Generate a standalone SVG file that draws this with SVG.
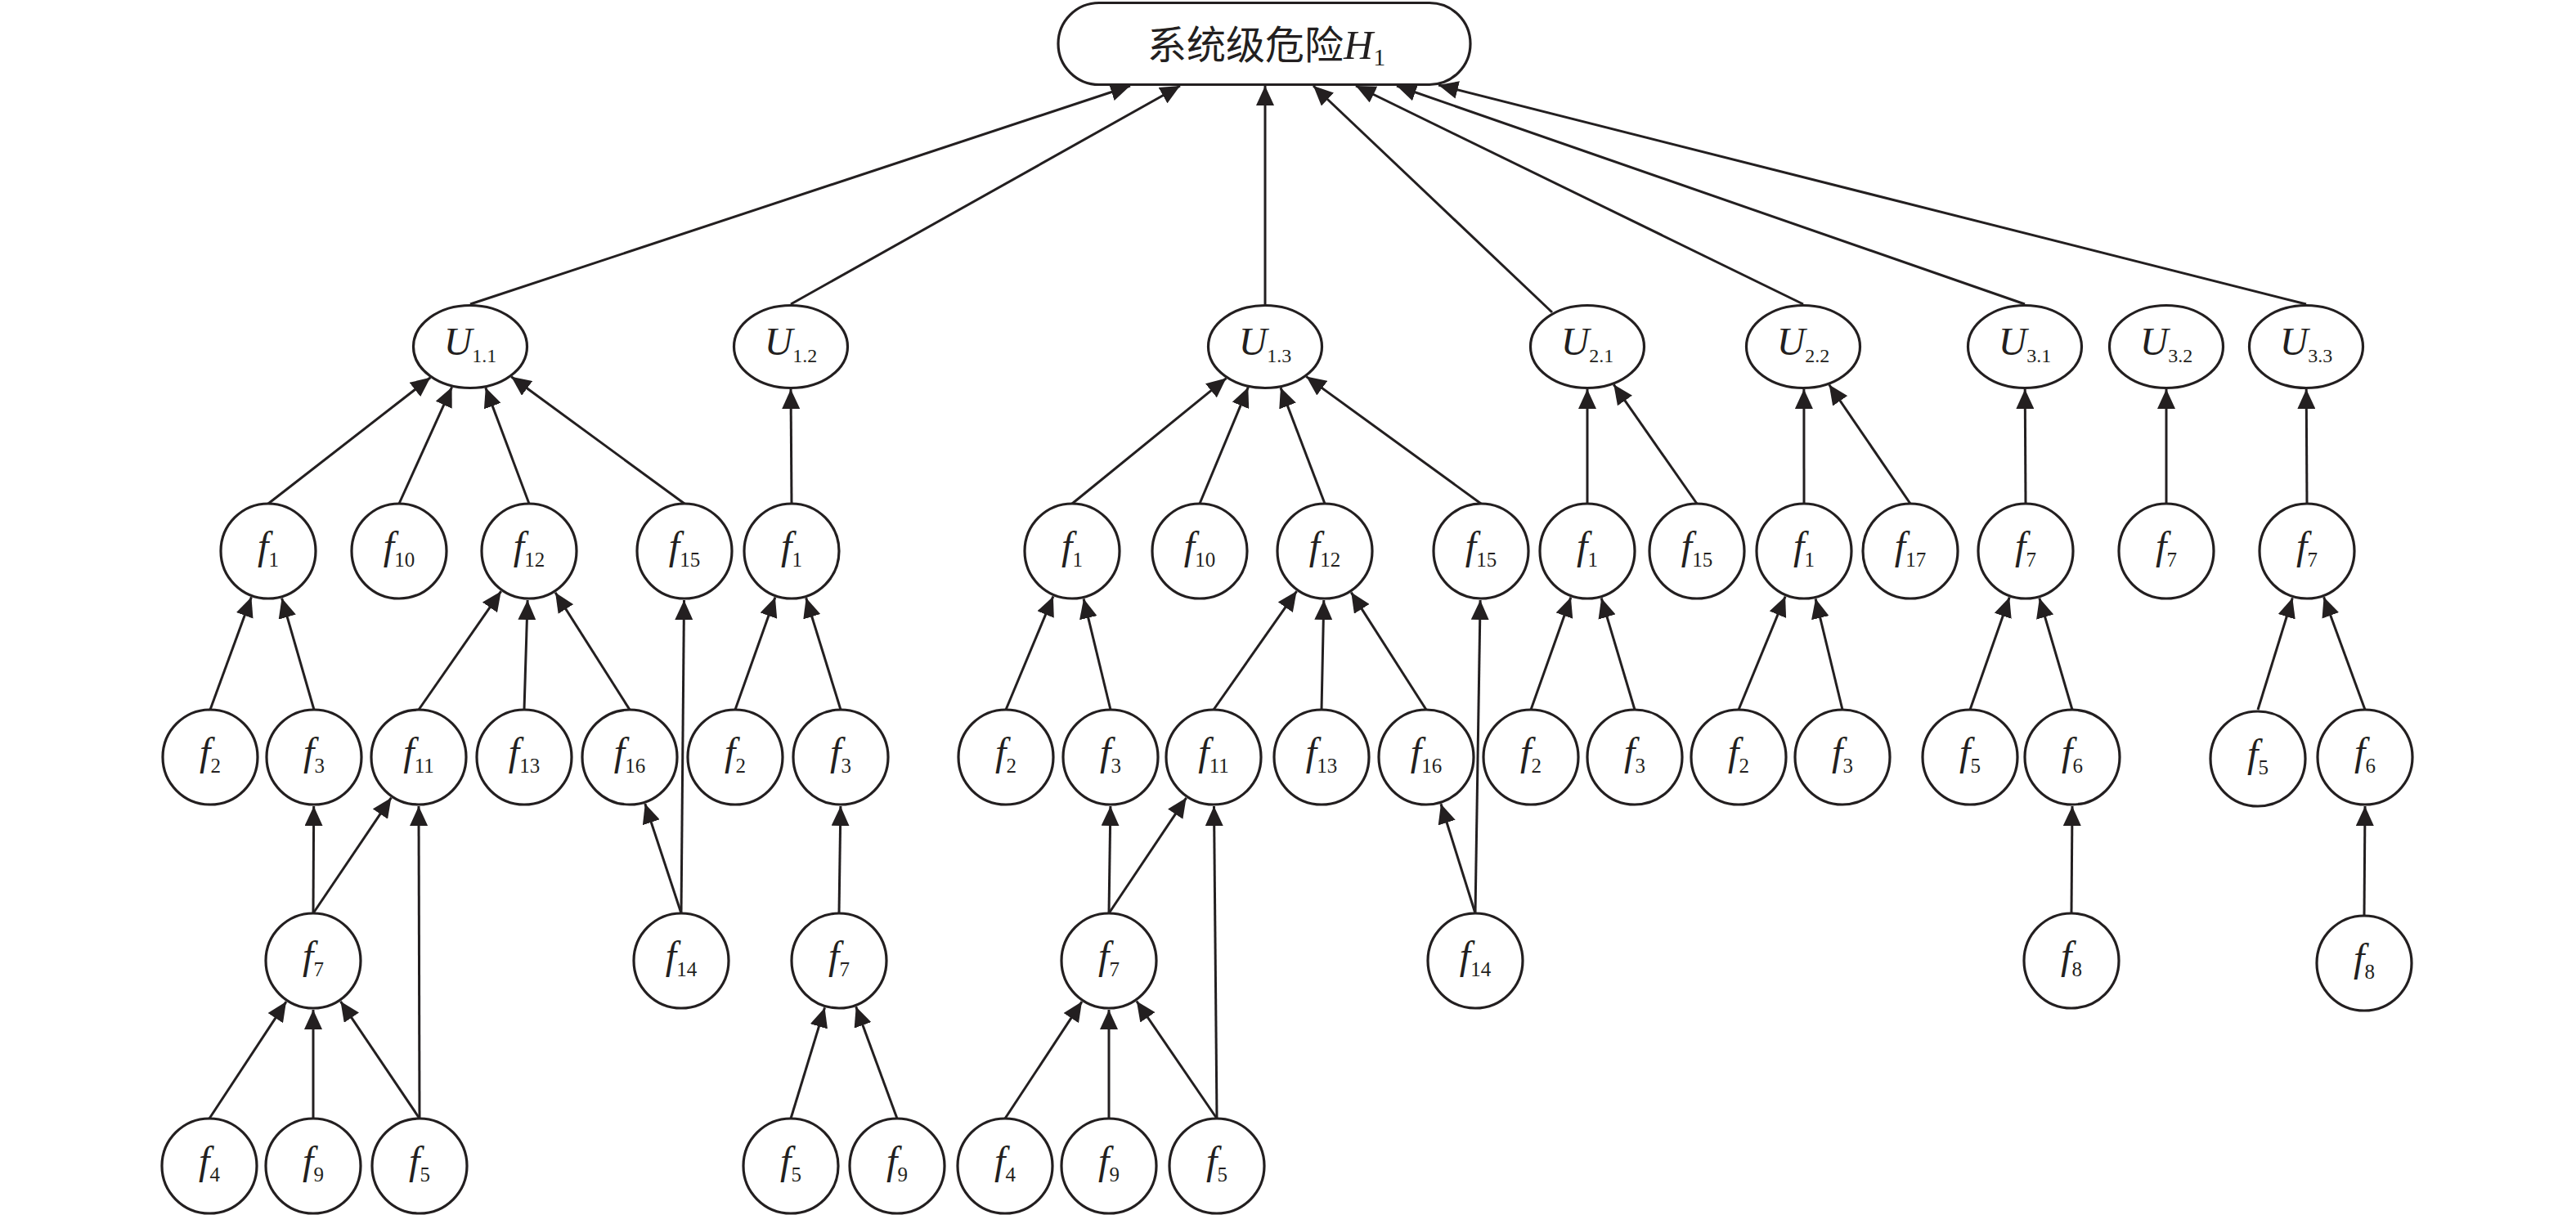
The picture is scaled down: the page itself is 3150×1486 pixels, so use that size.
<svg xmlns="http://www.w3.org/2000/svg" width="3150" height="1486" viewBox="0 0 3150 1486">
<style>
.n{fill:#fff;stroke:#231f20;stroke-width:3.2}
.e{stroke:#231f20;stroke-width:3;fill:none;marker-end:url(#ah)}
.t{font-family:"Liberation Serif","Times New Roman",serif;font-size:48px;font-style:italic;text-anchor:middle;fill:#231f20}
.s{font-size:25px;font-style:normal}
.su{font-size:24px;font-style:normal}
</style>
<defs>
<marker id="ah" viewBox="0 0 24 22" refX="24" refY="11" markerWidth="24" markerHeight="22" markerUnits="userSpaceOnUse" orient="auto">
<path d="M0,0 L24,11 L0,22 z" fill="#231f20"/>
</marker>
</defs>
<rect width="3150" height="1486" fill="#fff"/>
<g id="connectors">
<line class="e" x1="575" y1="372" x2="1382" y2="105"/>
<line class="e" x1="967" y1="372" x2="1443" y2="105"/>
<line class="e" x1="1547" y1="372" x2="1547" y2="105"/>
<line class="e" x1="1898" y1="382" x2="1606" y2="105"/>
<line class="e" x1="2205" y1="372" x2="1658" y2="105"/>
<line class="e" x1="2476" y1="372" x2="1708" y2="105"/>
<line class="e" x1="2820" y1="372" x2="1759" y2="104"/>
<line class="e" x1="257" y1="868" x2="307.4" y2="730.3"/>
<line class="e" x1="384" y1="868" x2="344.6" y2="731.6"/>
<line class="e" x1="512" y1="868" x2="612.7" y2="723.2"/>
<line class="e" x1="641" y1="868" x2="645.1" y2="734"/>
<line class="e" x1="770" y1="868" x2="679.1" y2="724.7"/>
<line class="e" x1="383" y1="1117" x2="383.7" y2="986"/>
<line class="e" x1="383" y1="1117" x2="478.4" y2="975.7"/>
<line class="e" x1="513" y1="1368" x2="512" y2="986"/>
<line class="e" x1="256" y1="1368" x2="350" y2="1225.1"/>
<line class="e" x1="383" y1="1368" x2="383" y2="1235"/>
<line class="e" x1="513" y1="1368" x2="416.5" y2="1224.8"/>
<line class="e" x1="833" y1="1117" x2="788.8" y2="983"/>
<line class="e" x1="833" y1="1117" x2="836.5" y2="734"/>
<line class="e" x1="328" y1="616" x2="526.3" y2="461.8"/>
<line class="e" x1="488" y1="616" x2="552.6" y2="473.4"/>
<line class="e" x1="647" y1="616" x2="593.8" y2="474.1"/>
<line class="e" x1="837" y1="616" x2="625.2" y2="460.8"/>
<line class="e" x1="968" y1="616" x2="967" y2="476"/>
<line class="e" x1="899" y1="868" x2="947.9" y2="730.5"/>
<line class="e" x1="1028" y1="868" x2="985.7" y2="731.3"/>
<line class="e" x1="1026" y1="1117" x2="1027.9" y2="986"/>
<line class="e" x1="967" y1="1368" x2="1008.5" y2="1232.4"/>
<line class="e" x1="1097" y1="1368" x2="1046.7" y2="1231.3"/>
<line class="e" x1="1311" y1="616" x2="1499.5" y2="462.6"/>
<line class="e" x1="1467" y1="616" x2="1526.3" y2="473.7"/>
<line class="e" x1="1620" y1="616" x2="1566" y2="474.1"/>
<line class="e" x1="1811" y1="616" x2="1597.4" y2="460.6"/>
<line class="e" x1="1230" y1="868" x2="1287.9" y2="729.4"/>
<line class="e" x1="1358" y1="868" x2="1325.1" y2="732.3"/>
<line class="e" x1="1484" y1="868" x2="1585.6" y2="723.1"/>
<line class="e" x1="1616" y1="868" x2="1618.8" y2="734"/>
<line class="e" x1="1744" y1="868" x2="1652.3" y2="724.6"/>
<line class="e" x1="1356" y1="1117" x2="1357.9" y2="986"/>
<line class="e" x1="1356" y1="1117" x2="1450.6" y2="975.8"/>
<line class="e" x1="1488" y1="1368" x2="1484.5" y2="986"/>
<line class="e" x1="1804" y1="1117" x2="1762" y2="983.2"/>
<line class="e" x1="1804" y1="1117" x2="1810.1" y2="734"/>
<line class="e" x1="1229" y1="1368" x2="1323" y2="1225.1"/>
<line class="e" x1="1356" y1="1368" x2="1356" y2="1235"/>
<line class="e" x1="1488" y1="1368" x2="1389.9" y2="1224.5"/>
<line class="e" x1="1941" y1="616" x2="1941" y2="476"/>
<line class="e" x1="2075" y1="616" x2="1973.3" y2="470.3"/>
<line class="e" x1="1872" y1="868" x2="1920.9" y2="730.5"/>
<line class="e" x1="1999" y1="868" x2="1958.2" y2="731.5"/>
<line class="e" x1="2206" y1="616" x2="2205.9" y2="476"/>
<line class="e" x1="2336" y1="616" x2="2236.7" y2="470.5"/>
<line class="e" x1="2126" y1="868" x2="2183.1" y2="729.5"/>
<line class="e" x1="2253" y1="868" x2="2220.1" y2="732.3"/>
<line class="e" x1="2477" y1="616" x2="2476.2" y2="476"/>
<line class="e" x1="2409" y1="868" x2="2457.2" y2="730.6"/>
<line class="e" x1="2534" y1="868" x2="2493.9" y2="731.6"/>
<line class="e" x1="2533" y1="1117" x2="2534" y2="986"/>
<line class="e" x1="2649" y1="616" x2="2649" y2="476"/>
<line class="e" x1="2821" y1="616" x2="2820.2" y2="476"/>
<line class="e" x1="2761" y1="868" x2="2803.3" y2="731.3"/>
<line class="e" x1="2892" y1="868" x2="2841.6" y2="730.3"/>
<line class="e" x1="2891" y1="1120" x2="2892" y2="986"/>
</g>
<g id="H1">
<rect class="n" x="1294" y="3.5" width="504" height="100" rx="50" ry="50"/>
<text x="1403" y="72" style="font-family:'Liberation Serif','Noto Sans CJK SC',serif;fill:#231f20;font-size:48px"><tspan style="font-family:'Noto Sans CJK SC',sans-serif">系统级危险</tspan><tspan style="font-style:italic;font-size:50px">H</tspan><tspan style="font-size:30px" dy="8">1</tspan></text>
</g>
<g id="U1_1"><ellipse class="n" cx="575" cy="424" rx="69.5" ry="50.5"/><text class="t" x="575" y="434">U<tspan class="su" dy="9">1.1</tspan></text></g>
<g id="U1_2"><ellipse class="n" cx="967" cy="424" rx="69.5" ry="50.5"/><text class="t" x="967" y="434">U<tspan class="su" dy="9">1.2</tspan></text></g>
<g id="U1_3"><ellipse class="n" cx="1547" cy="424" rx="69.5" ry="50.5"/><text class="t" x="1547" y="434">U<tspan class="su" dy="9">1.3</tspan></text></g>
<g id="U2_1"><ellipse class="n" cx="1941" cy="424" rx="69.5" ry="50.5"/><text class="t" x="1941" y="434">U<tspan class="su" dy="9">2.1</tspan></text></g>
<g id="U2_2"><ellipse class="n" cx="2205" cy="424" rx="69.5" ry="50.5"/><text class="t" x="2205" y="434">U<tspan class="su" dy="9">2.2</tspan></text></g>
<g id="U3_1"><ellipse class="n" cx="2476" cy="424" rx="69.5" ry="50.5"/><text class="t" x="2476" y="434">U<tspan class="su" dy="9">3.1</tspan></text></g>
<g id="U3_2"><ellipse class="n" cx="2649" cy="424" rx="69.5" ry="50.5"/><text class="t" x="2649" y="434">U<tspan class="su" dy="9">3.2</tspan></text></g>
<g id="U3_3"><ellipse class="n" cx="2820" cy="424" rx="69.5" ry="50.5"/><text class="t" x="2820" y="434">U<tspan class="su" dy="9">3.3</tspan></text></g>
<g id="g1_f1"><circle class="n" cx="328" cy="674" r="58"/><text class="t" x="328" y="684">f<tspan class="s" dy="9">1</tspan></text></g>
<g id="g1_f10"><circle class="n" cx="488" cy="674" r="58"/><text class="t" x="488" y="684">f<tspan class="s" dy="9">10</tspan></text></g>
<g id="g1_f12"><circle class="n" cx="647" cy="674" r="58"/><text class="t" x="647" y="684">f<tspan class="s" dy="9">12</tspan></text></g>
<g id="g1_f15"><circle class="n" cx="837" cy="674" r="58"/><text class="t" x="837" y="684">f<tspan class="s" dy="9">15</tspan></text></g>
<g id="g1_f2"><circle class="n" cx="257" cy="926" r="58"/><text class="t" x="257" y="936">f<tspan class="s" dy="9">2</tspan></text></g>
<g id="g1_f3"><circle class="n" cx="384" cy="926" r="58"/><text class="t" x="384" y="936">f<tspan class="s" dy="9">3</tspan></text></g>
<g id="g1_f11"><circle class="n" cx="512" cy="926" r="58"/><text class="t" x="512" y="936">f<tspan class="s" dy="9">11</tspan></text></g>
<g id="g1_f13"><circle class="n" cx="641" cy="926" r="58"/><text class="t" x="641" y="936">f<tspan class="s" dy="9">13</tspan></text></g>
<g id="g1_f16"><circle class="n" cx="770" cy="926" r="58"/><text class="t" x="770" y="936">f<tspan class="s" dy="9">16</tspan></text></g>
<g id="g1_f7"><circle class="n" cx="383" cy="1175" r="58"/><text class="t" x="383" y="1185">f<tspan class="s" dy="9">7</tspan></text></g>
<g id="g1_f14"><circle class="n" cx="833" cy="1175" r="58"/><text class="t" x="833" y="1185">f<tspan class="s" dy="9">14</tspan></text></g>
<g id="g1_f4"><circle class="n" cx="256" cy="1426" r="58"/><text class="t" x="256" y="1436">f<tspan class="s" dy="9">4</tspan></text></g>
<g id="g1_f9"><circle class="n" cx="383" cy="1426" r="58"/><text class="t" x="383" y="1436">f<tspan class="s" dy="9">9</tspan></text></g>
<g id="g1_f5"><circle class="n" cx="513" cy="1426" r="58"/><text class="t" x="513" y="1436">f<tspan class="s" dy="9">5</tspan></text></g>
<g id="g2_f1"><circle class="n" cx="968" cy="674" r="58"/><text class="t" x="968" y="684">f<tspan class="s" dy="9">1</tspan></text></g>
<g id="g2_f2"><circle class="n" cx="899" cy="926" r="58"/><text class="t" x="899" y="936">f<tspan class="s" dy="9">2</tspan></text></g>
<g id="g2_f3"><circle class="n" cx="1028" cy="926" r="58"/><text class="t" x="1028" y="936">f<tspan class="s" dy="9">3</tspan></text></g>
<g id="g2_f7"><circle class="n" cx="1026" cy="1175" r="58"/><text class="t" x="1026" y="1185">f<tspan class="s" dy="9">7</tspan></text></g>
<g id="g2_f5"><circle class="n" cx="967" cy="1426" r="58"/><text class="t" x="967" y="1436">f<tspan class="s" dy="9">5</tspan></text></g>
<g id="g2_f9"><circle class="n" cx="1097" cy="1426" r="58"/><text class="t" x="1097" y="1436">f<tspan class="s" dy="9">9</tspan></text></g>
<g id="g3_f1"><circle class="n" cx="1311" cy="674" r="58"/><text class="t" x="1311" y="684">f<tspan class="s" dy="9">1</tspan></text></g>
<g id="g3_f10"><circle class="n" cx="1467" cy="674" r="58"/><text class="t" x="1467" y="684">f<tspan class="s" dy="9">10</tspan></text></g>
<g id="g3_f12"><circle class="n" cx="1620" cy="674" r="58"/><text class="t" x="1620" y="684">f<tspan class="s" dy="9">12</tspan></text></g>
<g id="g3_f15"><circle class="n" cx="1811" cy="674" r="58"/><text class="t" x="1811" y="684">f<tspan class="s" dy="9">15</tspan></text></g>
<g id="g3_f2"><circle class="n" cx="1230" cy="926" r="58"/><text class="t" x="1230" y="936">f<tspan class="s" dy="9">2</tspan></text></g>
<g id="g3_f3"><circle class="n" cx="1358" cy="926" r="58"/><text class="t" x="1358" y="936">f<tspan class="s" dy="9">3</tspan></text></g>
<g id="g3_f11"><circle class="n" cx="1484" cy="926" r="58"/><text class="t" x="1484" y="936">f<tspan class="s" dy="9">11</tspan></text></g>
<g id="g3_f13"><circle class="n" cx="1616" cy="926" r="58"/><text class="t" x="1616" y="936">f<tspan class="s" dy="9">13</tspan></text></g>
<g id="g3_f16"><circle class="n" cx="1744" cy="926" r="58"/><text class="t" x="1744" y="936">f<tspan class="s" dy="9">16</tspan></text></g>
<g id="g3_f7"><circle class="n" cx="1356" cy="1175" r="58"/><text class="t" x="1356" y="1185">f<tspan class="s" dy="9">7</tspan></text></g>
<g id="g3_f14"><circle class="n" cx="1804" cy="1175" r="58"/><text class="t" x="1804" y="1185">f<tspan class="s" dy="9">14</tspan></text></g>
<g id="g3_f4"><circle class="n" cx="1229" cy="1426" r="58"/><text class="t" x="1229" y="1436">f<tspan class="s" dy="9">4</tspan></text></g>
<g id="g3_f9"><circle class="n" cx="1356" cy="1426" r="58"/><text class="t" x="1356" y="1436">f<tspan class="s" dy="9">9</tspan></text></g>
<g id="g3_f5"><circle class="n" cx="1488" cy="1426" r="58"/><text class="t" x="1488" y="1436">f<tspan class="s" dy="9">5</tspan></text></g>
<g id="g4_f1"><circle class="n" cx="1941" cy="674" r="58"/><text class="t" x="1941" y="684">f<tspan class="s" dy="9">1</tspan></text></g>
<g id="g4_f15"><circle class="n" cx="2075" cy="674" r="58"/><text class="t" x="2075" y="684">f<tspan class="s" dy="9">15</tspan></text></g>
<g id="g4_f2"><circle class="n" cx="1872" cy="926" r="58"/><text class="t" x="1872" y="936">f<tspan class="s" dy="9">2</tspan></text></g>
<g id="g4_f3"><circle class="n" cx="1999" cy="926" r="58"/><text class="t" x="1999" y="936">f<tspan class="s" dy="9">3</tspan></text></g>
<g id="g5_f1"><circle class="n" cx="2206" cy="674" r="58"/><text class="t" x="2206" y="684">f<tspan class="s" dy="9">1</tspan></text></g>
<g id="g5_f17"><circle class="n" cx="2336" cy="674" r="58"/><text class="t" x="2336" y="684">f<tspan class="s" dy="9">17</tspan></text></g>
<g id="g5_f2"><circle class="n" cx="2126" cy="926" r="58"/><text class="t" x="2126" y="936">f<tspan class="s" dy="9">2</tspan></text></g>
<g id="g5_f3"><circle class="n" cx="2253" cy="926" r="58"/><text class="t" x="2253" y="936">f<tspan class="s" dy="9">3</tspan></text></g>
<g id="g6_f7"><circle class="n" cx="2477" cy="674" r="58"/><text class="t" x="2477" y="684">f<tspan class="s" dy="9">7</tspan></text></g>
<g id="g6_f5"><circle class="n" cx="2409" cy="926" r="58"/><text class="t" x="2409" y="936">f<tspan class="s" dy="9">5</tspan></text></g>
<g id="g6_f6"><circle class="n" cx="2534" cy="926" r="58"/><text class="t" x="2534" y="936">f<tspan class="s" dy="9">6</tspan></text></g>
<g id="g6_f8"><circle class="n" cx="2533" cy="1175" r="58"/><text class="t" x="2533" y="1185">f<tspan class="s" dy="9">8</tspan></text></g>
<g id="g7_f7"><circle class="n" cx="2649" cy="674" r="58"/><text class="t" x="2649" y="684">f<tspan class="s" dy="9">7</tspan></text></g>
<g id="g8_f7"><circle class="n" cx="2821" cy="674" r="58"/><text class="t" x="2821" y="684">f<tspan class="s" dy="9">7</tspan></text></g>
<g id="g8_f5"><circle class="n" cx="2761" cy="928" r="58"/><text class="t" x="2761" y="938">f<tspan class="s" dy="9">5</tspan></text></g>
<g id="g8_f6"><circle class="n" cx="2892" cy="926" r="58"/><text class="t" x="2892" y="936">f<tspan class="s" dy="9">6</tspan></text></g>
<g id="g8_f8"><circle class="n" cx="2891" cy="1178" r="58"/><text class="t" x="2891" y="1188">f<tspan class="s" dy="9">8</tspan></text></g>
</svg>
